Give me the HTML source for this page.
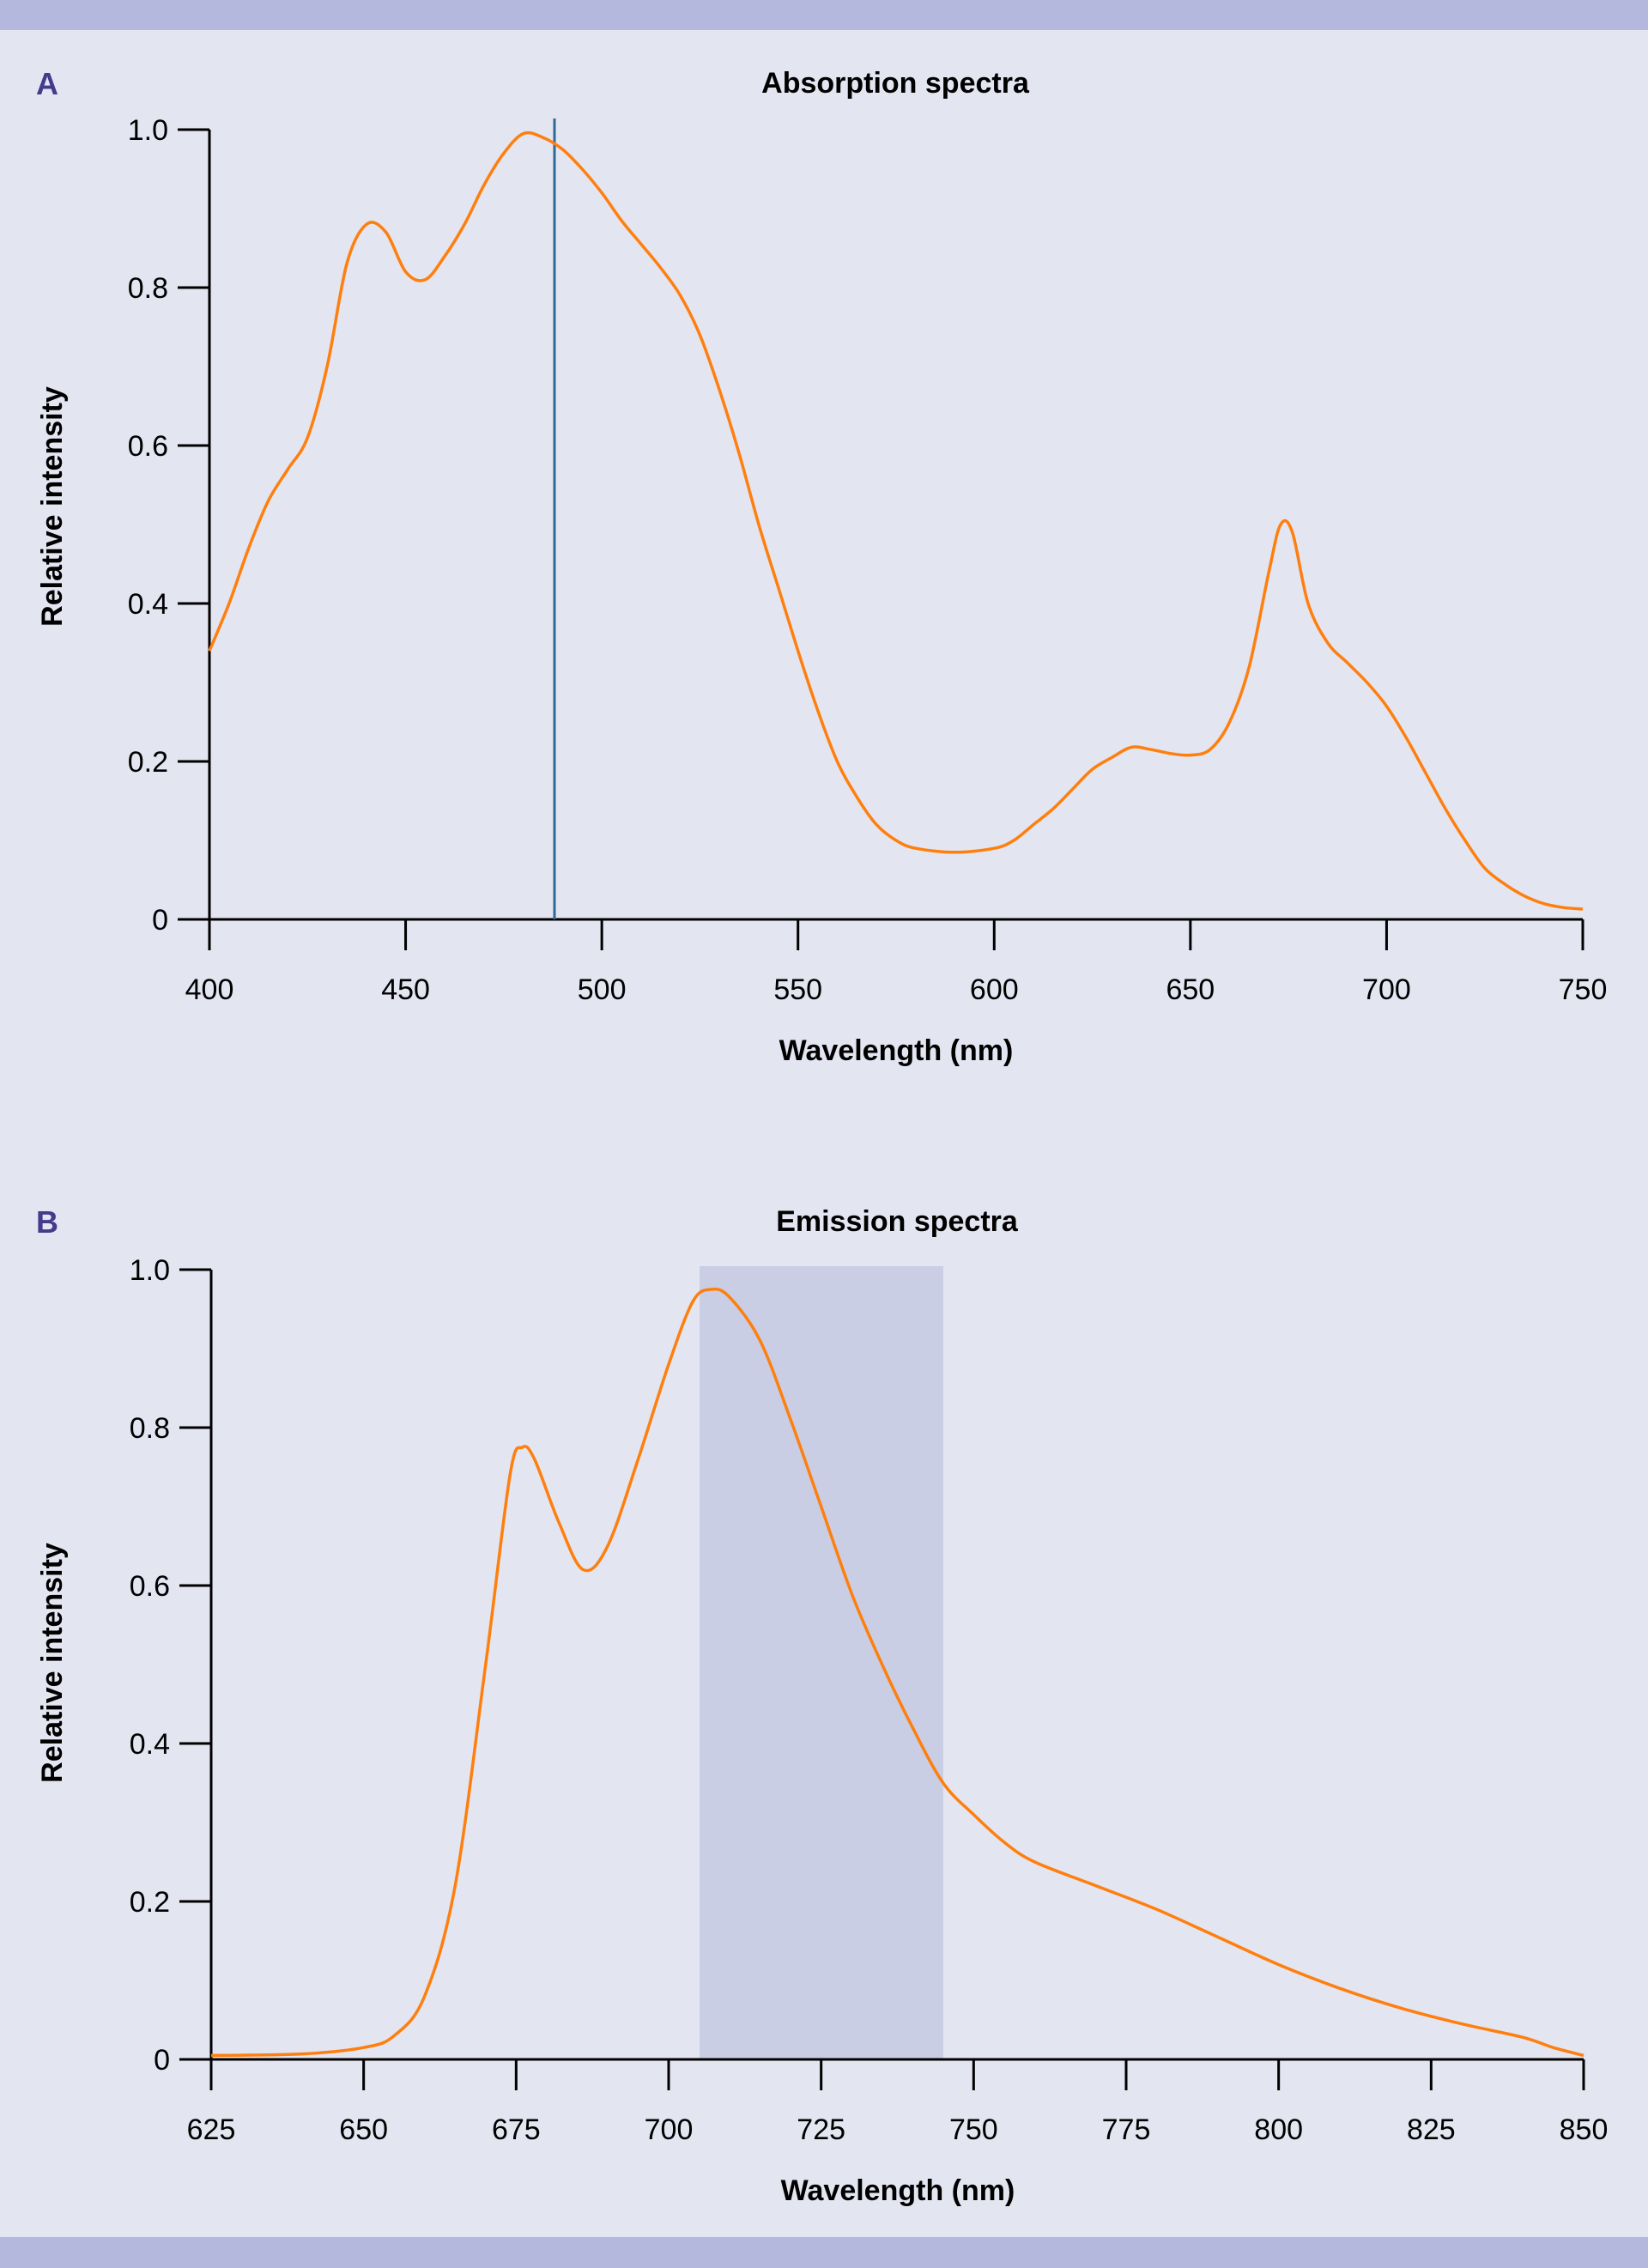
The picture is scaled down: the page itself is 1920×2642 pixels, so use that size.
<!DOCTYPE html>
<html><head><meta charset="utf-8">
<style>
html,body{margin:0;padding:0;background:#e3e5f1;}
svg{display:block;}
text{font-family:"Liberation Sans Narrow","Liberation Sans",sans-serif;}
</style></head>
<body>
<svg id="s" width="1920" height="2642" viewBox="0 0 1920 2642" xmlns="http://www.w3.org/2000/svg">
<rect x="0" y="0" width="1920" height="2642" fill="#e3e5f1"/>
<rect x="0" y="0" width="1920" height="35" fill="#b3b8dc"/>
<rect x="0" y="2606" width="1920" height="36" fill="#b3b8dc"/>

<!-- Panel A -->
<text x="42" y="110" font-size="36" font-weight="bold" fill="#463a8c">A</text>
<text x="1043" y="108" font-size="34" font-weight="bold" text-anchor="middle" fill="#000">Absorption spectra</text>
<text transform="translate(72,590) rotate(-90)" font-size="34" font-weight="bold" text-anchor="middle" fill="#000">Relative intensity</text>
<g id="axA" stroke="#000" stroke-width="3" fill="none"></g>
<g id="lbA" font-size="34" fill="#000"></g>
<line x1="646" y1="138" x2="646" y2="1071" stroke="#2e6a98" stroke-width="3"/>
<path id="pA" fill="none" stroke="#ff7f0e" stroke-width="3.5"/>
<text x="1044" y="1235" font-size="34" font-weight="bold" text-anchor="middle" fill="#000">Wavelength (nm)</text>

<!-- Panel B -->
<text x="42" y="1436" font-size="36" font-weight="bold" fill="#463a8c">B</text>
<text x="1045" y="1434" font-size="34" font-weight="bold" text-anchor="middle" fill="#000">Emission spectra</text>
<text transform="translate(72,1937) rotate(-90)" font-size="34" font-weight="bold" text-anchor="middle" fill="#000">Relative intensity</text>
<rect x="815" y="1475" width="284" height="924" fill="#c9cee5"/>
<g id="axB" stroke="#000" stroke-width="3" fill="none"></g>
<g id="lbB" font-size="34" fill="#000"></g>
<path id="pB" fill="none" stroke="#ff7f0e" stroke-width="3.5"/>
<text x="1046" y="2563" font-size="34" font-weight="bold" text-anchor="middle" fill="#000">Wavelength (nm)</text>
</svg>
<script>
var NS="http://www.w3.org/2000/svg";
function el(p,t,a,txt){var e=document.createElementNS(NS,t);for(var k in a)e.setAttribute(k,a[k]);if(txt!=null)e.textContent=txt;document.getElementById(p).appendChild(e);}
function axes(ax,lb,x0,x1,y1,y0,xt,yt,xmin,xmax){
  el(ax,"path",{d:"M"+x0+" "+y1+"V"+y0+"H"+x1});
  yt.forEach(function(v){var y=y0-(y0-y1)*v;el(ax,"line",{x1:x0-37,y1:y,x2:x0,y2:y});
    el(lb,"text",{x:x0-48,y:y+12,"text-anchor":"end"},v==0?"0":v.toFixed(1));});
  xt.forEach(function(v){var x=x0+(x1-x0)*(v-xmin)/(xmax-xmin);el(ax,"line",{x1:x,y1:y0,x2:x,y2:y0+36});
    el(lb,"text",{x:x,y:y0+93,"text-anchor":"middle"},String(v));});
}
function path(id,data,x0,x1,y1,y0,xmin,xmax){
  var p=data.map(function(d){return [x0+(x1-x0)*(d[0]-xmin)/(xmax-xmin), y0-(y0-y1)*d[1]];});
  var s="M"+p[0][0].toFixed(1)+" "+p[0][1].toFixed(1);
  for(var i=0;i<p.length-1;i++){
    var a=p[Math.max(i-1,0)],b=p[i],c=p[i+1],d=p[Math.min(i+2,p.length-1)];
    var c1=[b[0]+(c[0]-a[0])/6,b[1]+(c[1]-a[1])/6],c2=[c[0]-(d[0]-b[0])/6,c[1]-(d[1]-b[1])/6];
    s+="C"+c1[0].toFixed(1)+" "+c1[1].toFixed(1)+" "+c2[0].toFixed(1)+" "+c2[1].toFixed(1)+" "+c[0].toFixed(1)+" "+c[1].toFixed(1);
  }
  document.getElementById(id).setAttribute("d",s);
}
var yt=[0,0.2,0.4,0.6,0.8,1.0];
axes("axA","lbA",244,1844,151,1071,[400,450,500,550,600,650,700,750],yt,400,750);
axes("axB","lbB",246,1845,1479,2399,[625,650,675,700,725,750,775,800,825,850],yt,625,850);
var A=[[400,.34],[405,.40],[410,.47],[415,.53],[420,.57],[425,.61],[430,.70],[435,.83],[440,.88],[445,.87],[450,.82],[455,.81],[460,.84],[465,.88],[470,.93],[475,.97],[480,.995],[485,.99],[490,.975],[495,.95],[500,.92],[505,.885],[510,.855],[515,.825],[520,.79],[525,.74],[530,.67],[535,.59],[540,.50],[545,.42],[550,.34],[555,.265],[560,.20],[565,.155],[570,.12],[575,.10],[580,.09],[590,.085],[600,.09],[605,.10],[610,.12],[615,.14],[620,.165],[625,.19],[630,.205],[635,.218],[640,.215],[645,.21],[650,.208],[655,.215],[660,.25],[665,.32],[670,.44],[673,.50],[676,.49],[680,.40],[685,.35],[690,.325],[695,.30],[700,.27],[705,.23],[710,.185],[715,.14],[720,.10],[725,.065],[730,.045],[735,.03],[740,.02],[745,.015],[750,.013]];
var B=[[625,.005],[640,.007],[650,.015],[655,.03],[660,.08],[665,.22],[670,.50],[674,.74],[676,.775],[678,.76],[682,.68],[686,.62],[690,.65],[695,.76],[700,.88],[704,.96],[707,.975],[710,.965],[715,.91],[720,.81],[725,.70],[730,.59],[735,.50],[740,.42],[745,.35],[750,.31],[755,.275],[760,.25],[770,.22],[780,.19],[790,.155],[800,.12],[810,.09],[820,.065],[830,.045],[840,.028],[845,.015],[850,.005]];
path("pA",A,244,1844,151,1071,400,750);
path("pB",B,246,1845,1479,2399,625,850);
</script>
</body></html>
